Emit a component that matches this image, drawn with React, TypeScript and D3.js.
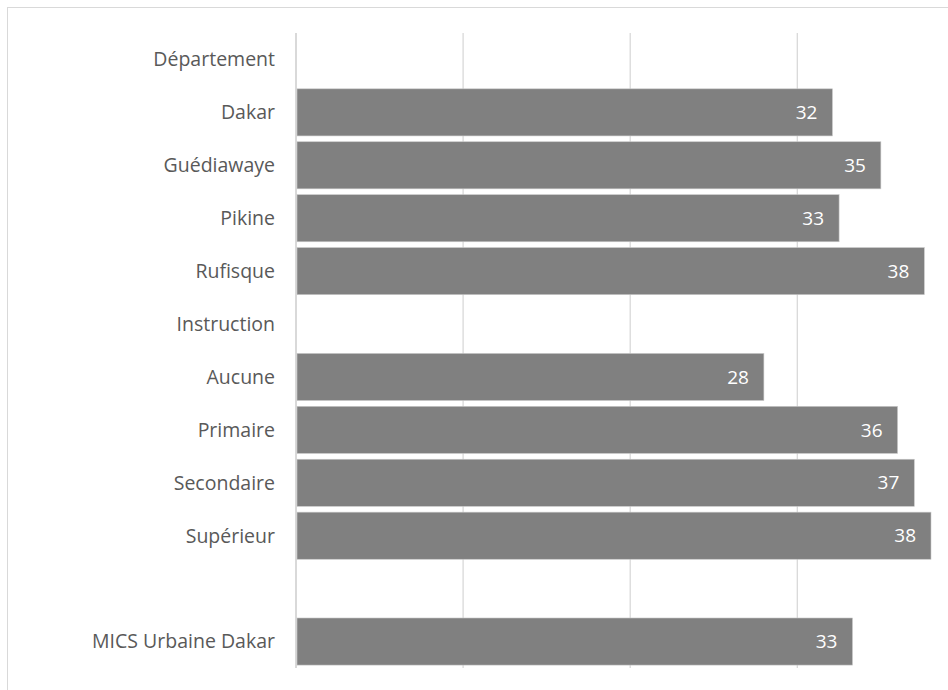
import React from "react";
import * as d3 from "d3";

const categories = [
  "Département",
  "Dakar",
  "Guédiawaye",
  "Pikine",
  "Rufisque",
  "Instruction",
  "Aucune",
  "Primaire",
  "Secondaire",
  "Supérieur",
  " ",
  "MICS Urbaine Dakar",
];
const values: (number | null)[] = [null, 32.1, 35.0, 32.5, 37.6, null, 28.0, 36.0, 37.0, 38.0, null, 33.3];
const xTicks = [0, 10, 20, 30];

const W = 948;
const H = 690;
const left = 296;
const right = 931;
const top = 33;
const bottom = 668;
const FONT = "'Open Sans', Calibri, sans-serif";

export default function App() {
  const x = d3.scaleLinear().domain([0, 38]).range([left, right]);
  const y = d3.scaleBand<string>().domain(categories).range([top, bottom]).paddingInner(0.11).paddingOuter(0.055);

  return (
    <svg width={W} height={H} style={{ position: "absolute", left: 0, top: 0, background: "#fff" }}>
      <rect x={7.5} y={7.5} width={W + 10} height={H + 10} fill="#fff" stroke="#d9d9d9" strokeWidth={1} />
      {xTicks.map((t) => (
        <line key={t} x1={x(t)} x2={x(t)} y1={top} y2={bottom} stroke="#d9d9d9" strokeWidth={t === 0 ? 2 : 1.3} />
      ))}
      {categories.map((c, i) => {
        const v = values[i];
        const yy = y(c)!;
        const bh = y.bandwidth();
        return (
          <g key={i}>
            <text x={275} y={yy + bh / 2} dy="0.35em" textAnchor="end" fontFamily={FONT} fontSize={19.5} fill="#595959">
              {c}
            </text>
            {v !== null && (
              <g>
                <rect x={x(0) + 1} y={yy} width={x(v) - x(0) - 1} height={bh} fill="#808080" stroke="#c8c8c8" strokeWidth={0.6} />
                <text x={x(v) - 15} y={yy + bh / 2} dy="0.35em" textAnchor="end" fontFamily={FONT} fontSize={19} fill="#ffffff">
                  {Math.round(v)}
                </text>
              </g>
            )}
          </g>
        );
      })}
    </svg>
  );
}
